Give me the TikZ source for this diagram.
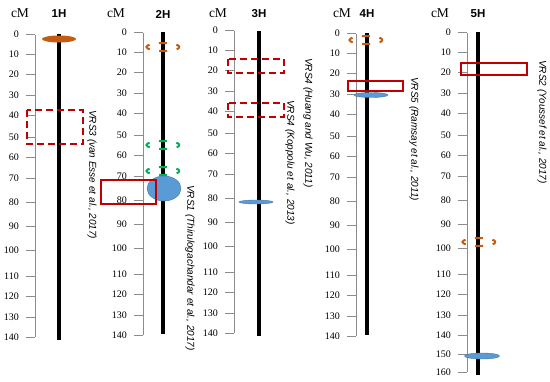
\documentclass[tikz,border=0pt]{standalone}
\usepackage{fontspec}
\setmainfont{Liberation Serif}
\setsansfont{Liberation Sans}
\usetikzlibrary{shapes.geometric}
\definecolor{axisgray}{HTML}{8C8C8C}
\definecolor{boxred}{HTML}{C00000}
\definecolor{mkorange}{HTML}{C55A11}
\definecolor{mkgreen}{HTML}{00B050}
\definecolor{mkblue}{HTML}{5B9BD5}

\begin{document}
\begin{tikzpicture}[x=1pt, y=-1pt,
  ticklabel/.style={anchor=east, inner sep=0pt, font=\fontsize{10}{10}\selectfont},
  axisline/.style={draw=axisgray, line width=1pt},
  chrom/.style={draw=black, line width=4pt},
  cmlabel/.style={inner sep=0pt, font=\fontsize{13.5}{14}\selectfont},
  chrlabel/.style={inner sep=0pt, font=\sffamily\bfseries\fontsize{11.5}{12}\selectfont},
  reflabel/.style={rotate=-90, anchor=west, inner sep=0pt, font=\sffamily\itshape\fontsize{10}{10}\selectfont},
  region/.style={draw=boxred, line width=1.5pt},
  dregion/.style={draw=boxred, line width=2pt, dash pattern=on 7pt off 4pt},
  qtl/.style={ellipse, inner sep=0pt, line width=2pt, minimum width=33pt, minimum height=8pt, dash pattern=on 8pt off 9.6pt, dash phase=4pt},
  locus/.style={ellipse, fill=mkblue, draw=mkblue!75!black, line width=0.4pt, inner sep=0pt}
]
\useasboundingbox (0,0) rectangle (550,381);

% scales, chromosomes and headers
\foreach \lab/\ax/\cx/\dy/\abot/\ctop/\cbot/\cmx in {1H/35/59/2/337/34/340/20, 2H/143/163/0/335/32/334/116, 3H/234/259/-2/333/31/336/218, 4H/356/367/1/336/33/335/342, 5H/467/478/0/372/32/375/440} {
  \draw[axisline] (\ax,32.5+\dy) -- (\ax,\abot);
  \foreach \v/\y in {0/32.5,10/52,20/72,30/93,40/113,50/135,60/155,70/176,80/200,90/224,100/248,110/274,120/294,130/315,140/335} {
    \draw[axisline] (\ax-9,\y+\dy) -- (\ax,\y+\dy);
    \node[ticklabel] (t\lab-\v) at (\ax-16,\y+\dy) {\v};
  }
  \draw[chrom] (\cx,\ctop) -- (\cx,\cbot);
  \node[cmlabel] (cm\lab) at (\cmx,13) {cM};
  \node[chrlabel] (hd\lab) at (\cx,14) {\lab};
}
\foreach \v/\y in {150/354,160/372} {
  \draw[axisline] (458,\y) -- (467,\y);
  \node[ticklabel] (t5H-\v) at (451,\y) {\v};
}

% markers
\node[ellipse, fill=mkorange, inner sep=0pt, minimum width=34pt, minimum height=7pt] (o1H) at (59,39) {};
\node[qtl, draw=mkorange] (o2H) at (163,47) {};
\node[qtl, draw=mkgreen] (g2Ha) at (163,145) {};
\node[qtl, draw=mkgreen] (g2Hb) at (163,171) {};
\node[locus, minimum width=34pt, minimum height=25pt] (b2H) at (164,188.5) {};
\node[locus, minimum width=34pt, minimum height=4pt] (b3H) at (256,202) {};
\node[qtl, draw=mkorange] (o4H) at (366,40) {};
\node[locus, minimum width=34pt, minimum height=5pt] (b4H) at (371,95) {};
\node[qtl, draw=mkorange] (o5H) at (479,242) {};
\node[locus, minimum width=35pt, minimum height=6pt] (b5H) at (482,356) {};

% candidate regions
\draw[dregion] (27,110) rectangle (83,144);
\draw[region] (101,180) rectangle (156,204);
\draw[dregion] (228,59) rectangle (284,73);
\draw[dregion] (228,103) rectangle (284,117);
\draw[region] (348,81) rectangle (403,91);
\draw[region] (461,63) rectangle (527,75);

\node[reflabel] (r1H) at (92,110) {VRS3 (van Esse et al., 2017)};
\node[reflabel] (r2H) at (190,185) {VRS1 (Thirulogachandar et al., 2017)};
\node[reflabel] (r3Ha) at (308,58) {VRS4 (Huang and Wu, 2011)};
\node[reflabel] (r3Hb) at (290,100) {VRS4 (Koppolu et al., 2013)};
\node[reflabel] (r4H) at (414,77) {VRS5 (Ramsay et al., 2011)};
\node[reflabel] (r5H) at (542,60) {VRS2 (Youssef et al., 2017)};
\end{tikzpicture}
\end{document}
